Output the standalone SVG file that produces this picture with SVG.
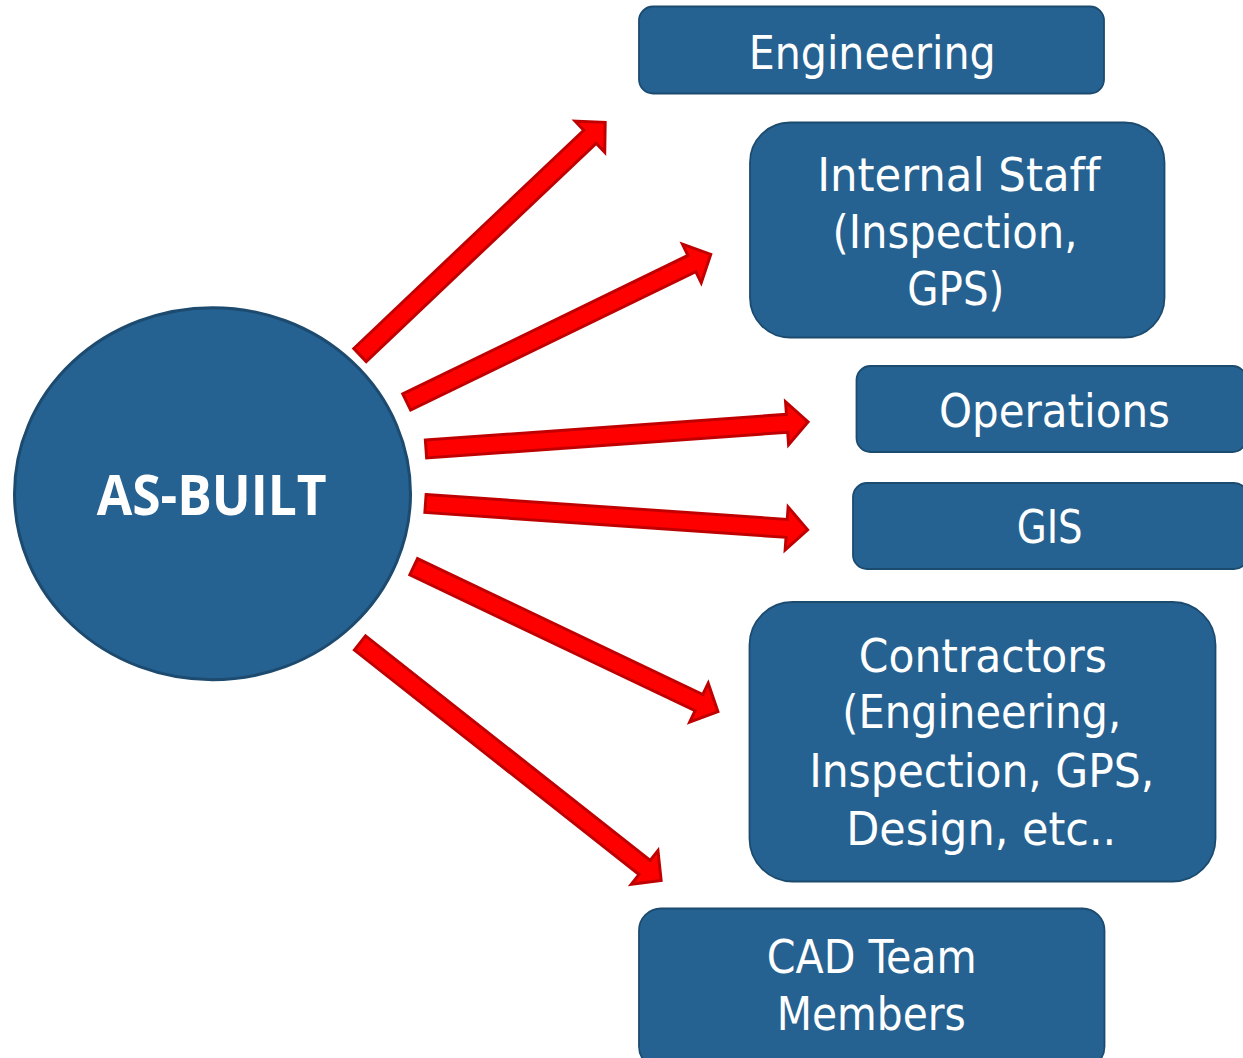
<svg xmlns="http://www.w3.org/2000/svg" width="1243" height="1058" viewBox="0 0 1243 1058">
<style>
.box{fill:#256291;stroke:#1C4B70;stroke-width:1.8}
.hub{fill:#256291;stroke:#1D4A6F;stroke-width:3}
.lbl{fill:#FFFFFF;font-family:"DejaVu Sans Condensed","DejaVu Sans",sans-serif;font-size:46px;text-anchor:middle;font-variant-ligatures:none;font-feature-settings:"liga" 0}
.hubtxt{fill:#FFFFFF;font-family:"Open Sans","Noto Sans","DejaVu Sans",sans-serif;font-size:56px;font-weight:700;text-anchor:middle}
.arr{fill:#FF0000;stroke:#C00000;stroke-width:3;stroke-linejoin:miter}
</style>
<rect width="1243" height="1058" fill="#FFFFFF"/>
<g id="connectors">
<polygon class="arr" transform="translate(360,355) rotate(-43.5)" points="0,-9 317,-9 317,-21.5 338,0 317,21.5 317,9 0,9"/>
<polygon class="arr" transform="translate(406.7,402) rotate(-25.9)" points="0,-9 317,-9 317,-21.5 338,0 317,21.5 317,9 0,9"/>
<polygon class="arr" transform="translate(426,449) rotate(-4.07)" points="0,-9 362,-9 362,-21.5 383,0 362,21.5 362,9 0,9"/>
<polygon class="arr" transform="translate(425.5,503.5) rotate(3.94)" points="0,-9 362,-9 362,-21.5 383,0 362,21.5 362,9 0,9"/>
<polygon class="arr" transform="translate(413.7,566.7) rotate(25.48)" points="0,-9 316,-9 316,-21.5 337,0 316,21.5 316,9 0,9"/>
<polygon class="arr" transform="translate(360,643) rotate(38.26)" points="0,-9 362.5,-9 362.5,-21.5 383.5,0 362.5,21.5 362.5,9 0,9"/>
</g>
<g id="as-built">
<ellipse class="hub" cx="212.5" cy="493.7" rx="198" ry="186"/>
<text class="hubtxt" x="211.7" y="515" textLength="230" lengthAdjust="spacingAndGlyphs">AS-BUILT</text>
</g>
<g id="engineering">
<rect class="box" x="639" y="6.5" width="465" height="87" rx="14"/>
<text class="lbl" x="872.2" y="68.5" textLength="247" lengthAdjust="spacingAndGlyphs">Engineering</text>
</g>
<g id="internal-staff">
<rect class="box" x="750" y="122.5" width="414.5" height="215" rx="40"/>
<text class="lbl" x="958.7" y="191" textLength="283" lengthAdjust="spacingAndGlyphs">Internal Staff</text>
<text class="lbl" x="955" y="247.7" textLength="245" lengthAdjust="spacingAndGlyphs">(Inspection,</text>
<text class="lbl" x="955.8" y="305" textLength="97" lengthAdjust="spacingAndGlyphs">GPS)</text>
</g>
<g id="operations">
<rect class="box" x="856.5" y="366" width="390" height="86" rx="14"/>
<text class="lbl" x="1054.5" y="426.7" textLength="231" lengthAdjust="spacingAndGlyphs">Operations</text>
</g>
<g id="gis">
<rect class="box" x="853" y="483" width="395" height="86" rx="14"/>
<text class="lbl" x="1049.7" y="543.3" textLength="66" lengthAdjust="spacingAndGlyphs">GIS</text>
</g>
<g id="contractors">
<rect class="box" x="749.5" y="602" width="466" height="279.5" rx="43"/>
<text class="lbl" x="982.8" y="671.7" textLength="248" lengthAdjust="spacingAndGlyphs">Contractors</text>
<text class="lbl" x="981.7" y="728.3" textLength="279" lengthAdjust="spacingAndGlyphs">(Engineering,</text>
<text class="lbl" x="981.7" y="786.7" textLength="345" lengthAdjust="spacingAndGlyphs">Inspection, GPS,</text>
<text class="lbl" x="981.2" y="845" textLength="270" lengthAdjust="spacingAndGlyphs">Design, etc..</text>
</g>
<g id="cad-team">
<rect class="box" x="639" y="908.5" width="465.5" height="160" rx="22"/>
<text class="lbl" x="871.7" y="972.7" textLength="210" lengthAdjust="spacingAndGlyphs">CAD Team</text>
<text class="lbl" x="871.3" y="1030" textLength="189" lengthAdjust="spacingAndGlyphs">Members</text>
</g>
</svg>
